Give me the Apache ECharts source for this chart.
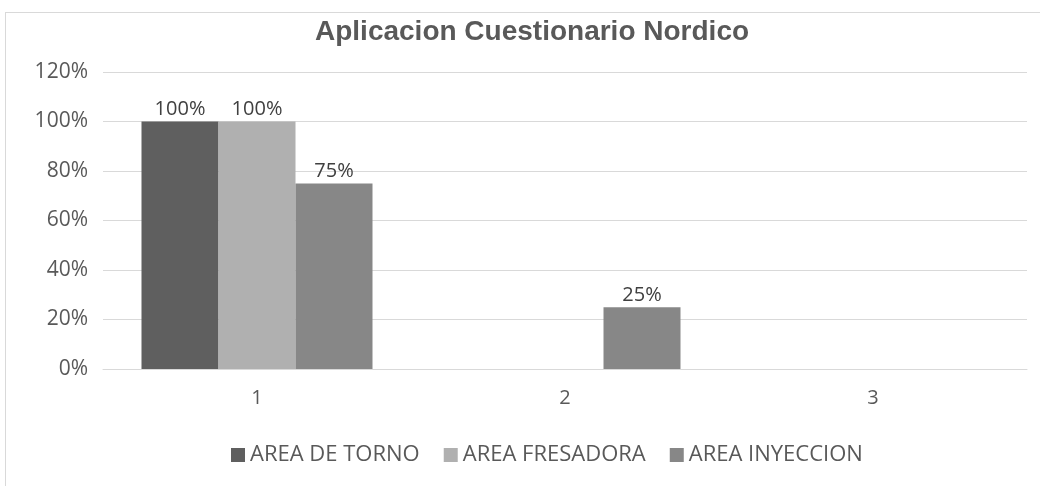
<!DOCTYPE html>
<html>
<head>
<meta charset="utf-8">
<script src="https://cdn.jsdelivr.net/npm/echarts@6/dist/echarts.min.js"></script>
<style>
    html, body { margin: 0; padding: 0; background: #fff; }
    #frame { position: absolute; left: 5px; top: 12px; width: 1040px; height: 480px;
             border-top: 1px solid #d9d9d9; border-left: 1px solid #d9d9d9; }
    #chart { position: absolute; left: 0; top: 0; width: 1040px; height: 486px; }
</style>
</head>
<body>
<div id="frame"></div>
<div id="chart"></div>
<script>
var categories = ['1', '2', '3'];
var torno = [100, 0, 0];
var fresadora = [100, 0, 0];
var inyeccion = [75, 25, 0];
var seriesNames = ['AREA DE TORNO', 'AREA FRESADORA', 'AREA INYECCION'];
var seriesColors = ['#5f5f5f', '#b0b0b0', '#878787'];

var chart = echarts.init(document.getElementById('chart'), null, { renderer: 'canvas' });

function barSeries(name, data, color) {
    return {
        name: name,
        type: 'bar',
        data: data,
        barGap: '0%',
        barCategoryGap: '25%',
        itemStyle: { color: color },
        label: {
            show: true,
            position: 'top',
            distance: 2,
            color: '#404040',
            fontFamily: 'Open Sans',
            fontSize: 20,
            formatter: function (p) { return p.value ? p.value + '%' : ''; }
        }
    };
}

var option = {
    animation: false,
    title: {
        text: 'Aplicacion Cuestionario Nordico',
        left: 310,
        top: 13,
        textStyle: { fontFamily: 'Liberation Sans', fontWeight: 'bold', fontSize: 28, color: '#595959' }
    },
    legend: {
        top: 439,
        left: 226,
        itemWidth: 14,
        itemHeight: 14,
        itemGap: 24,
        icon: 'rect',
        textStyle: { fontFamily: 'Open Sans', fontSize: 22, color: '#595959' },
        data: seriesNames
    },
    grid: { left: 103, right: 13, top: 72, bottom: 117 },
    xAxis: {
        type: 'category',
        data: categories,
        axisLine: { lineStyle: { color: '#d9d9d9', width: 1 } },
        axisTick: { show: false },
        axisLabel: { color: '#595959', fontFamily: 'Open Sans', fontSize: 20, margin: 19 }
    },
    yAxis: {
        type: 'value',
        min: 0,
        max: 120,
        interval: 20,
        axisLine: { show: false },
        axisTick: { show: false },
        splitLine: { lineStyle: { color: '#d9d9d9', width: 1 } },
        axisLabel: {
            color: '#595959', fontFamily: 'Open Sans', fontSize: 21, margin: 15,
            formatter: '{value}%'
        }
    },
    series: [
        barSeries(seriesNames[0], torno, seriesColors[0]),
        barSeries(seriesNames[1], fresadora, seriesColors[1]),
        barSeries(seriesNames[2], inyeccion, seriesColors[2])
    ]
};
chart.setOption(option);
</script>
</body>
</html>
